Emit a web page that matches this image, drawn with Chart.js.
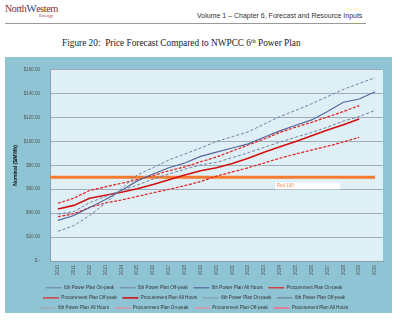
<!DOCTYPE html>
<html><head><meta charset="utf-8">
<script src="https://cdn.jsdelivr.net/npm/chart.js@4.4.1/dist/chart.umd.min.js"></script>
<style>
html,body{margin:0;padding:0;background:#fff;width:400px;height:324px;overflow:hidden;font-family:"Liberation Sans",Arial,sans-serif;}
#logo{position:absolute;left:5px;top:2px;font-family:"Liberation Serif",serif;font-size:10px;color:#8c1f2b;letter-spacing:-0.4px;white-space:nowrap}
#logo .w{color:#2a4a8a;font-size:11px}
#logo .e{position:absolute;left:34px;top:11px;font-size:5px;color:#a03040;letter-spacing:0}
#hdr{position:absolute;left:197px;top:12px;font-size:7px;color:#333;white-space:nowrap}
#rule{position:absolute;left:5px;top:23px;width:361px;height:1px;background:#999}
#title{position:absolute;left:62px;top:38px;font-family:"Liberation Serif",serif;font-size:9.3px;color:#222;white-space:nowrap}
#title sup{font-size:6px;vertical-align:3px;line-height:0}
#wrap{position:absolute;left:5px;top:57px;width:387px;height:256px;background:#8fc4d4}
canvas{display:block}
</style></head>
<body>
<div id="logo">North<span class="w">W</span>estern<span class="e">Energy</span></div>
<div id="hdr">Volume 1 – Chapter 6, Forecast and Resource Inputs</div>
<div id="rule"></div>
<div id="title">Figure 20:&nbsp; Price Forecast Compared to NWPCC 6<sup>th</sup> Power Plan</div>
<div id="wrap"><canvas id="c" width="387" height="256"></canvas></div>
<script>
const years = [2010,2011,2012,2013,2014,2015,2016,2017,2018,2019,2020,2021,2022,2023,2024,2025,2026,2027,2028,2029,2030];
const sixthOnPeak   = [24.8,29.6,38,48.5,60.5,72,78,84.5,89.5,94.5,100,104,108,114.5,120.8,126,131.5,137.5,143.5,148.5,153.3];
const sixthOffPeak  = [39.2,41.3,48.8,54,59,63.5,68.5,72.8,76.8,80.3,82.5,86.5,90.5,95,99.5,103.5,107.5,112,117,120.8,126];
const sixthAllHours = [34,38,44.8,51.5,59,67,72.8,78,82,87.5,91,94.5,98,103.5,108.8,113.5,118,125,132.8,135.5,141.6];
const procOnPeak    = [48.3,52.5,59,62,65,68,71.5,75.5,78.7,83,87,92,97,102,107.5,112,116,120.5,125,130];
const procOffPeak   = [37,39.5,44.8,48.5,51,54,57,60,63,66.5,71,74.5,78,82,86,89.5,92.8,96,99.5,103.5];
const procAllHours  = [43.5,46.5,52.5,55,57.5,60.5,64,68,72,75.5,78,81.5,86,91,95.5,100,104.8,109.5,114,118.7];
const redLineYears  = [2009.5, 2030];
const redLineValues = [70, 70];
const redLabelText  = 'Red 100';
const seriesLabels = ['6th Power Plan On-peak','6th Power Plan Off-peak','6th Power Plan All Hours',
                      'Procurement Plan On-peak','Procurement Plan Off-peak','Procurement Plan All Hours'];

const pts = arr => arr.map((v,i)=>({x:years[i], y:v}));

Chart.defaults.font.family = '"Liberation Sans", Arial, sans-serif';

const plotBg = {
  id:'plotBg',
  beforeDraw(chart){
    const {ctx, chartArea:a} = chart;
    ctx.save(); ctx.fillStyle = '#dfeff6'; ctx.fillRect(a.left, a.top, a.right-a.left, a.bottom-a.top); ctx.restore();
  }
};
const redLabel = {
  id:'redLabel',
  afterDatasetsDraw(chart){
    const {ctx, scales:{x,y}} = chart;
    const x0 = x.getPixelForValue(2023.7), x1 = x.getPixelForValue(2027.8);
    const y0 = y.getPixelForValue(65.6), y1 = y.getPixelForValue(60);
    ctx.save();
    ctx.fillStyle = '#ffffff'; ctx.fillRect(x0, y0, x1-x0, y1-y0);
    ctx.fillStyle = '#f08a5a'; ctx.font = '4.5px "Liberation Sans", Arial, sans-serif';
    ctx.textBaseline = 'middle'; ctx.fillText(redLabelText, x0+1.5, (y0+y1)/2);
    ctx.restore();
  }
};
const legendFix = {
  id:'legendFix',
  beforeUpdate(chart){
    const lg = chart.legend;
    if (lg && !lg._fixed){ const f = lg.fit; lg.fit = function(){ f.call(this); this.height = 33; }; lg._fixed = true; }
  }
};

function ds(label, data, color, width, dash){
  return {label, data: data ? pts(data) : [], borderColor: color, backgroundColor: color, borderWidth: width,
          borderDash: dash || [], pointRadius: 0, fill: false, tension: 0};
}

new Chart(document.getElementById('c'), {
  type: 'line',
  data: {
    datasets: [
      ds(seriesLabels[0], sixthOnPeak, '#7080a4', 1, [3,2]),
      ds(seriesLabels[1], sixthOffPeak, '#7080a4', 1, [3,2]),
      ds(seriesLabels[2], sixthAllHours, '#56669c', 1.2),
      ds(seriesLabels[3], procOnPeak, '#e3201c', 1.2, [3,1.5]),
      ds(seriesLabels[4], procOffPeak, '#e3201c', 1.2, [3,1.5]),
      ds(seriesLabels[5], procAllHours, '#d40f0f', 1.6),
      ds(seriesLabels[0], null, '#8a90a8', 1, [3,2]),
      ds(seriesLabels[1], null, '#6b7088', 1, [3,2]),
      ds(seriesLabels[2], null, '#a4a6b4', 1.2),
      ds(seriesLabels[3], null, '#f0889c', 1.2, [3,1.5]),
      ds(seriesLabels[4], null, '#f0889c', 1.2, [3,1.5]),
      ds(seriesLabels[5], null, '#f07088', 1.6),
      {label:'', data: redLineYears.map((yr,i)=>({x:yr, y:redLineValues[i]})), borderColor:'#f47b30',
       backgroundColor:'#f47b30', borderWidth:3, pointRadius:0, fill:false}
    ]
  },
  options: {
    responsive:false, animation:false,
    layout:{padding:{left:0, right:9, top:4, bottom:0}},
    plugins:{
      legend:{
        position:'bottom', align:'center',
        labels:{
          usePointStyle:true, pointStyle:'line', pointStyleWidth:16,
          font:{size:4.6}, color:'#333', padding:5.5,
          filter: item => item.text !== ''
        }
      },
      tooltip:{enabled:false}
    },
    scales:{
      x:{
        type:'linear', min:2009.5, max:2030.5,
        afterBuildTicks: s => { s.ticks = years.map(v=>({value:v})); },
        afterFit: s => { s.height = 19; },
        grid:{display:false, drawTicks:false},
        border:{display:true, color:'#8d9ca6'},
        ticks:{autoSkip:false, minRotation:90, maxRotation:90, padding:4, font:{size:4.5}, color:'#555',
               callback: v => String(v)}
      },
      y:{
        min:0, max:160,
        afterFit: s => { s.width = 45; },
        grid:{color:'#9eadb6', drawTicks:false},
        border:{display:true, color:'#8d9ca6'},
        ticks:{stepSize:20, padding:10, font:{size:4.5}, color:'#555',
               callback: v => v === 0 ? '$ -' : '$' + v.toFixed(2)},
        title:{display:true, text:'Nominal ($/MWh)', font:{size:5, weight:'bold'}, color:'#111', padding:{top:8, bottom:0}}
      }
    }
  },
  plugins:[plotBg, redLabel, legendFix]
});
</script>
</body></html>
